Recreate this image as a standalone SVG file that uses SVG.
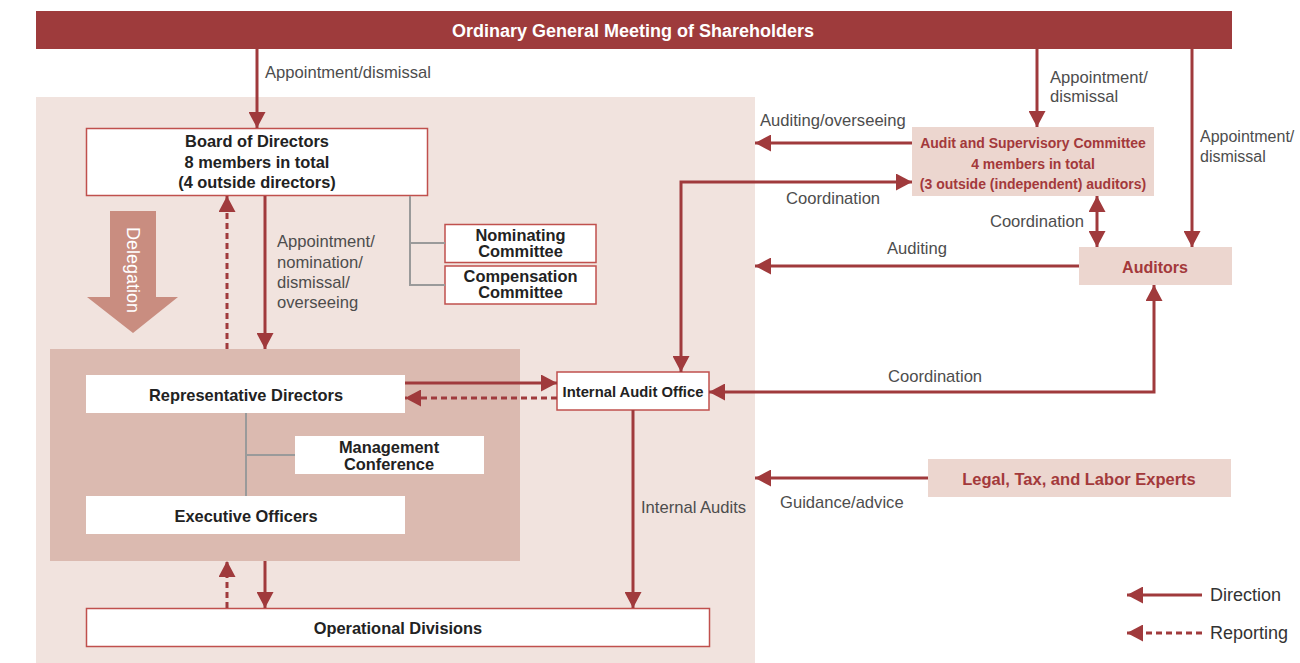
<svg xmlns="http://www.w3.org/2000/svg" width="1300" height="663" viewBox="0 0 1300 663">
<style>
  .lbl{font-family:"Liberation Sans",Arial,sans-serif;font-size:16.6px;fill:#4d4d4d}
  .bx{font-family:"Liberation Sans",Arial,sans-serif;font-size:16.4px;font-weight:bold;fill:#222;text-anchor:middle}
  .rt{font-family:"Liberation Sans",Arial,sans-serif;font-weight:bold;fill:#a3393b;text-anchor:middle}
  .wbox{fill:#fff;stroke:#c0504d;stroke-width:1.5}
  .pbox{fill:#ecd6cf}
  .plain{fill:#fff}
  .ar{fill:none;stroke:#a03a3c;stroke-width:3}
  .dash{stroke-dasharray:6 4}
  .gray{fill:none;stroke:#9a9a9a;stroke-width:2}
</style>
<defs>
  <marker id="ah" markerUnits="userSpaceOnUse" markerWidth="16" markerHeight="17" refX="16" refY="8.5" orient="auto-start-reverse">
    <path d="M0,0 L16,8.5 L0,17 z" fill="#a03a3c"/>
  </marker>
</defs>

<g id="background">
  <rect x="36" y="97" width="719" height="566" fill="#f1e3de"/>
  <rect x="50" y="349" width="470" height="212" fill="#dbbab0"/>
</g>

<g id="shareholders">
  <rect x="36" y="11" width="1196" height="38" fill="#9e3b3c"/>
  <text x="633" y="37" font-family="Liberation Sans, Arial, sans-serif" font-size="18" font-weight="bold" fill="#fff" text-anchor="middle">Ordinary General Meeting of Shareholders</text>
</g>

<g id="board">
  <rect class="wbox" x="86.5" y="128.5" width="341" height="67"/>
  <text class="bx" x="257" y="147">Board of Directors</text>
  <text class="bx" x="257" y="167.5">8 members in total</text>
  <text class="bx" x="257" y="188">(4 outside directors)</text>
</g>

<g id="nominating">
  <rect class="wbox" x="445" y="224.5" width="151" height="38"/>
  <text class="bx" x="520.5" y="241">Nominating</text>
  <text class="bx" x="520.5" y="257">Committee</text>
</g>

<g id="compensation">
  <rect class="wbox" x="445" y="266" width="151" height="38"/>
  <text class="bx" x="520.5" y="282">Compensation</text>
  <text class="bx" x="520.5" y="298">Committee</text>
</g>

<g id="delegation">
  <polygon points="110,211 156,211 156,297 178,297 133,333 87,297 110,297" fill="#c98d80"/>
  <text transform="translate(133,270) rotate(90)" x="0" y="6.5" font-family="Liberation Sans, Arial, sans-serif" font-size="18" fill="#fff" text-anchor="middle">Delegation</text>
</g>

<g id="audit-committee">
  <rect class="pbox" x="912" y="127" width="242" height="69"/>
  <text class="rt" x="1033" y="148" font-size="14">Audit and Supervisory Committee</text>
  <text class="rt" x="1033" y="168.5" font-size="14">4 members in total</text>
  <text class="rt" x="1033" y="189" font-size="14">(3 outside (independent) auditors)</text>
</g>

<g id="auditors">
  <rect class="pbox" x="1079" y="247" width="153" height="38"/>
  <text class="rt" x="1155" y="273" font-size="16">Auditors</text>
</g>

<g id="internal-audit-office">
  <rect class="wbox" x="557" y="372" width="152" height="38"/>
  <text class="bx" x="633" y="397" style="font-size:14.8px">Internal Audit Office</text>
</g>

<g id="representative-directors">
  <rect class="plain" x="86" y="375" width="319" height="38"/>
  <text class="bx" x="246" y="400.5">Representative Directors</text>
</g>

<g id="management-conference">
  <rect class="plain" x="295" y="436" width="189" height="38"/>
  <text class="bx" x="389" y="453">Management</text>
  <text class="bx" x="389" y="470">Conference</text>
</g>

<g id="executive-officers">
  <rect class="plain" x="86" y="496" width="319" height="38"/>
  <text class="bx" x="246" y="521.5">Executive Officers</text>
</g>

<g id="operational-divisions">
  <rect class="wbox" x="86.5" y="608.5" width="623" height="38"/>
  <text class="bx" x="398" y="634">Operational Divisions</text>
</g>

<g id="legal-experts">
  <rect class="pbox" x="928" y="459" width="303" height="38"/>
  <text class="rt" x="1079" y="485" font-size="16.5">Legal, Tax, and Labor Experts</text>
</g>

<g id="connectors">
  <path class="gray" d="M410,196 V285 H445 M410,243 H445"/>
  <path class="gray" d="M246,413 V496 M246,455 H295"/>

  <line class="ar" x1="257" y1="49" x2="257" y2="128" marker-end="url(#ah)"/>
  <line class="ar dash" x1="227" y1="349" x2="227" y2="196" marker-end="url(#ah)"/>
  <line class="ar" x1="265" y1="196" x2="265" y2="349" marker-end="url(#ah)"/>

  <line class="ar" x1="1037" y1="49" x2="1037" y2="127" marker-end="url(#ah)"/>
  <line class="ar" x1="1192" y1="49" x2="1192" y2="247" marker-end="url(#ah)"/>
  <line class="ar" x1="912" y1="143" x2="755" y2="143" marker-end="url(#ah)"/>
  <path class="ar" d="M681,372 V182 H912" marker-start="url(#ah)" marker-end="url(#ah)"/>
  <line class="ar" x1="1097" y1="196" x2="1097" y2="247" marker-start="url(#ah)" marker-end="url(#ah)"/>
  <line class="ar" x1="1079" y1="266" x2="755" y2="266" marker-end="url(#ah)"/>
  <path class="ar" d="M709,392 H1154 V285" marker-start="url(#ah)" marker-end="url(#ah)"/>

  <line class="ar" x1="405" y1="383" x2="557" y2="383" marker-end="url(#ah)"/>
  <line class="ar dash" x1="557" y1="398" x2="405" y2="398" marker-end="url(#ah)"/>
  <line class="ar" x1="633" y1="410" x2="633" y2="608" marker-end="url(#ah)"/>

  <line class="ar dash" x1="227" y1="608" x2="227" y2="561" marker-end="url(#ah)"/>
  <line class="ar" x1="265" y1="561" x2="265" y2="608" marker-end="url(#ah)"/>

  <line class="ar" x1="928" y1="478" x2="755" y2="478" marker-end="url(#ah)"/>

  <text class="lbl" x="265" y="78">Appointment/dismissal</text>
  <text class="lbl" x="277" y="247">Appointment/</text>
  <text class="lbl" x="277" y="267.5">nomination/</text>
  <text class="lbl" x="277" y="288">dismissal/</text>
  <text class="lbl" x="277" y="308">overseeing</text>
  <text class="lbl" x="1050" y="83">Appointment/</text>
  <text class="lbl" x="1050" y="102">dismissal</text>
  <text class="lbl" x="1200" y="142" style="font-size:16px">Appointment/</text>
  <text class="lbl" x="1200" y="162" style="font-size:16px">dismissal</text>
  <text class="lbl" x="760" y="126">Auditing/overseeing</text>
  <text class="lbl" x="786" y="204">Coordination</text>
  <text class="lbl" x="1084" y="227" text-anchor="end">Coordination</text>
  <text class="lbl" x="887" y="254">Auditing</text>
  <text class="lbl" x="888" y="382">Coordination</text>
  <text class="lbl" x="641" y="513">Internal Audits</text>
  <text class="lbl" x="780" y="508">Guidance/advice</text>
</g>

<g id="legend">
  <line class="ar" x1="1202" y1="595" x2="1127" y2="595" marker-end="url(#ah)"/>
  <text x="1210" y="601" font-family="Liberation Sans, Arial, sans-serif" font-size="18" fill="#333">Direction</text>
  <line class="ar dash" x1="1202" y1="633" x2="1127" y2="633" marker-end="url(#ah)"/>
  <text x="1210" y="639" font-family="Liberation Sans, Arial, sans-serif" font-size="18" fill="#333">Reporting</text>
</g>
</svg>
